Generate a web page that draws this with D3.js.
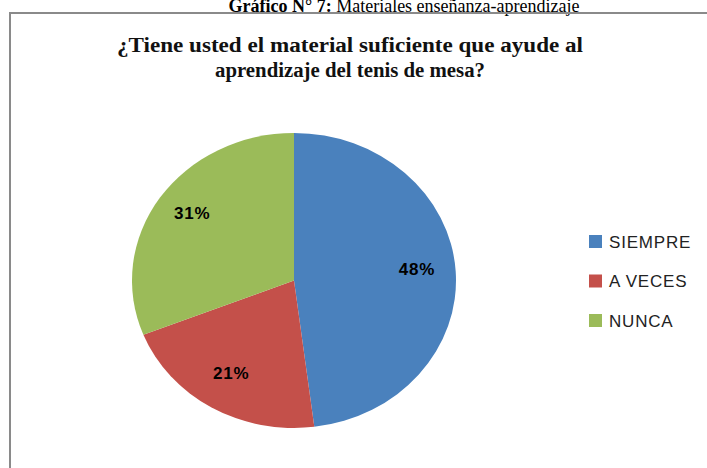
<!DOCTYPE html>
<html>
<head>
<meta charset="utf-8">
<script src="https://cdn.jsdelivr.net/npm/d3@7"></script>
<style>
  body { margin: 0; background: #fff; }
  svg { display: block; }
</style>
</head>
<body>
<div id="chart"></div>
<script>
// datos del grafico
var categorias = ["SIEMPRE", "A VECES", "NUNCA"];
var valores = [48, 21, 31];
var colores = ["#4A81BD", "#C4504A", "#9BBB59"];
var titulo = ["¿Tiene usted el material suficiente que ayude al", "aprendizaje del tenis de mesa?"];

var width = 707, height = 468;
var svg = d3.select("#chart").append("svg").attr("width", width).attr("height", height);

// leyenda superior del documento (cortada en la imagen)
var cap = svg.append("text").attr("x", 404).attr("y", 12).attr("text-anchor", "middle")
    .attr("font-family", "Liberation Serif, Times New Roman, serif").attr("font-size", 18).attr("fill", "#000");
cap.append("tspan").attr("font-weight", "bold").text("Gráfico N° 7: ");
cap.append("tspan").text("Materiales enseñanza-aprendizaje");

// marco del grafico
svg.append("path").attr("d", "M10,470 L10,13 L710,13")
    .attr("fill", "none").attr("stroke", "#8a8a8a").attr("stroke-width", 2);

// titulo
var anchos = [466, 270];
svg.append("g").selectAll("text").data(titulo).enter().append("text")
    .attr("x", 350).attr("y", function(d, i) { return 52 + i * 25; })
    .attr("text-anchor", "middle")
    .attr("textLength", function(d, i) { return anchos[i]; })
    .attr("lengthAdjust", "spacingAndGlyphs")
    .attr("font-family", "Liberation Serif, Times New Roman, serif")
    .attr("font-weight", "bold").attr("font-size", 20).attr("fill", "#111")
    .text(function(d) { return d; });

// pastel (ligeramente estirado en horizontal como en la imagen)
var cx = 294, cy = 280.5, r = 147.5, sx = 162 / 147.5;
var pie = d3.pie().sort(null).value(function(d) { return d; });
var arc = d3.arc().innerRadius(0).outerRadius(r);
var lab = d3.arc().innerRadius(r * 0.76).outerRadius(r * 0.76);
var total = d3.sum(valores);
var arcs = pie(valores);

svg.append("g").attr("transform", "translate(" + cx + "," + cy + ") scale(" + sx + ",1)")
  .selectAll("path").data(arcs).enter().append("path")
    .attr("d", arc)
    .attr("fill", function(d, i) { return colores[i]; });

svg.append("g").attr("transform", "translate(" + cx + "," + cy + ")")
  .selectAll("text").data(arcs).enter().append("text")
    .attr("x", function(d) { return lab.centroid(d)[0] * sx; })
    .attr("y", function(d) { return lab.centroid(d)[1] - 4; })
    .attr("dy", "0.35em").attr("text-anchor", "middle")
    .attr("font-family", "Liberation Sans, Arial, sans-serif")
    .attr("font-weight", "bold").attr("font-size", 17).attr("letter-spacing", 0.8).attr("fill", "#000")
    .text(function(d) { return Math.round(d.value / total * 100) + "%"; });

// leyenda
var leg = svg.append("g").attr("transform", "translate(589,241)");
var items = leg.selectAll("g").data(categorias).enter().append("g")
    .attr("transform", function(d, i) { return "translate(0," + (i * 39.5) + ")"; });
items.append("rect").attr("x", 0).attr("y", -6).attr("width", 13).attr("height", 13)
    .attr("fill", function(d, i) { return colores[i]; });
items.append("text").attr("x", 20).attr("y", 1).attr("dy", "0.35em")
    .attr("font-family", "Liberation Sans, Arial, sans-serif").attr("font-size", 17)
    .attr("letter-spacing", 0.8).attr("fill", "#222")
    .text(function(d) { return d; });
</script>
</body>
</html>
